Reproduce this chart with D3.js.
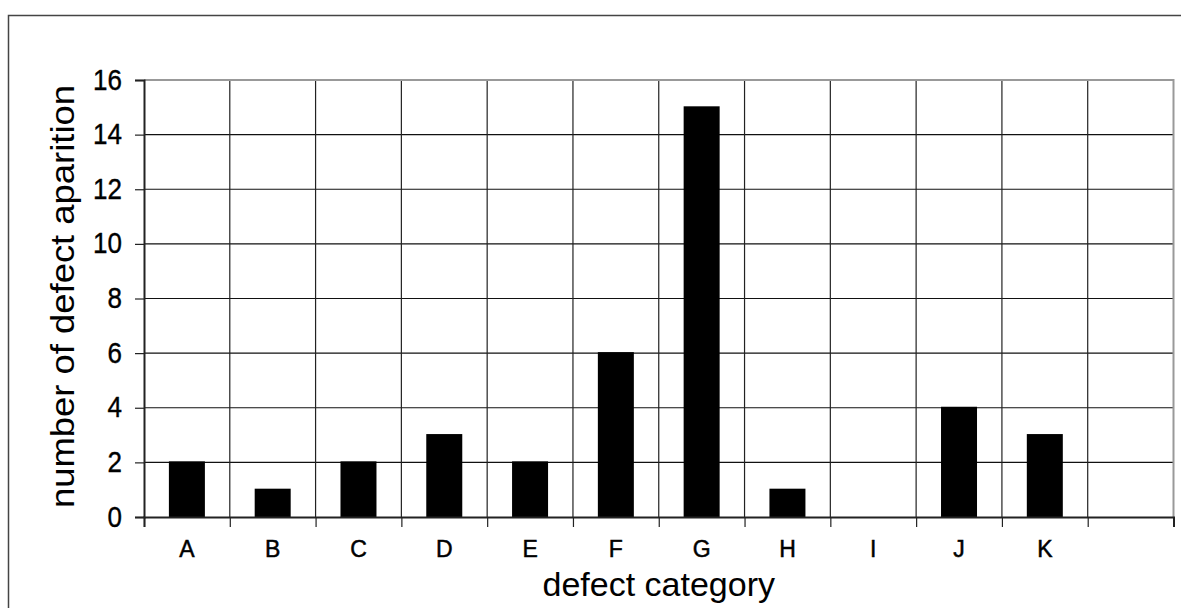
<!DOCTYPE html>
<html>
<head>
<meta charset="utf-8">
<script src="https://cdn.jsdelivr.net/npm/d3@7"></script>
<style>
  html, body { margin: 0; padding: 0; background: #fff; }
  svg { display: block; }
  text { font-family: "Liberation Sans", Arial, sans-serif; fill: #000; }
</style>
</head>
<body>
<svg id="chart" width="1181" height="608"></svg>
<script>
// Defect counts per category (the last slot is an empty category)
const categories = ["A", "B", "C", "D", "E", "F", "G", "H", "I", "J", "K", ""];
const counts = [2, 1, 2, 3, 2, 6, 15, 1, 0, 4, 3, null];
const yTicks = [0, 2, 4, 6, 8, 10, 12, 14, 16];
const xTitle = "defect category";
const yTitle = "number of defect aparition";

const W = 1181, H = 608;
const plot = { left: 144, right: 1173.5, top: 80, bottom: 517 };

const svg = d3.select("#chart");

// Outer frame of the chart object (runs past the right and bottom edges)
svg.append("rect")
  .attr("x", 8.5).attr("y", 15.5)
  .attr("width", W + 20).attr("height", H + 20)
  .attr("fill", "none").attr("stroke", "#444").attr("stroke-width", 1.5);

const x = d3.scaleBand().domain(d3.range(categories.length))
  .range([plot.left, plot.right]).paddingInner(0).paddingOuter(0);
const y = d3.scaleLinear().domain([0, 16]).range([plot.bottom, plot.top]);

// Horizontal gridlines
svg.append("g").selectAll("line").data(yTicks.filter(v => v > 0 && v < 16)).join("line")
  .attr("x1", plot.left).attr("x2", plot.right)
  .attr("y1", d => y(d)).attr("y2", d => y(d))
  .attr("stroke", "#111").attr("stroke-width", 1.2);

// Vertical gridlines at category boundaries
svg.append("g").selectAll("line").data(d3.range(1, categories.length)).join("line")
  .attr("x1", d => x(d)).attr("x2", d => x(d))
  .attr("y1", plot.top).attr("y2", plot.bottom)
  .attr("stroke", "#222").attr("stroke-width", 1.2);

// Plot area border (top and right, grey)
svg.append("path")
  .attr("d", `M${plot.left},${plot.top}H${plot.right}V${plot.bottom}`)
  .attr("fill", "none").attr("stroke", "#999").attr("stroke-width", 2);

// Bars
const barW = 36;
svg.append("g").selectAll("rect")
  .data(counts.map((v, i) => ({ v, i })).filter(d => d.v != null && d.v > 0))
  .join("rect")
  .attr("x", d => x(d.i) + x.bandwidth() / 2 - barW / 2)
  .attr("y", d => y(d.v) - 1)
  .attr("width", barW)
  .attr("height", d => y(0) - y(d.v) + 1)
  .attr("fill", "#000");

// Y axis
const yAxis = d3.axisLeft(y).tickValues(yTicks).tickSize(9).tickPadding(13)
  .tickFormat(d3.format("d"));
const gy = svg.append("g").attr("transform", `translate(${plot.left},0)`).call(yAxis);
gy.select(".domain").attr("stroke", "#222").attr("stroke-width", 2);
gy.selectAll(".tick line").attr("stroke", "#222").attr("stroke-width", 1.2);
// Tick labels are slightly taller than wide: stretch them vertically
gy.selectAll(".tick text")
  .attr("x", 0).attr("dy", 0)
  .attr("font-size", 26)
  .attr("transform", "translate(-22,9) scale(1,1.14)")
  .attr("stroke", "#000").attr("stroke-width", 0.35)
  .style("font-family", '"Liberation Sans", Arial, sans-serif').attr("fill", "#000");

// X axis: ticks at category boundaries, labels centred in each band
const xb = d3.scaleLinear().domain([0, categories.length]).range([plot.left, plot.right]);
const gx = svg.append("g").attr("transform", `translate(0,${plot.bottom})`)
  .call(d3.axisBottom(xb).tickValues(d3.range(0, categories.length + 1)).tickSize(10).tickFormat(""));
gx.select(".domain").attr("stroke", "#222").attr("stroke-width", 2);
gx.selectAll(".tick line").attr("stroke", "#222").attr("stroke-width", 1.2);

svg.append("g").selectAll("text").data(categories).join("text")
  .attr("x", (d, i) => x(i) + x.bandwidth() / 2)
  .attr("y", 557)
  .attr("text-anchor", "middle")
  .attr("font-size", 23)
  .attr("stroke", "#000").attr("stroke-width", 0.5)
  .text(d => d);

// Axis titles
svg.append("text")
  .attr("x", (plot.left + plot.right) / 2).attr("y", 596)
  .attr("text-anchor", "middle").attr("font-size", 34)
  .text(xTitle);

svg.append("text")
  .attr("transform", `translate(74,${(plot.top + plot.bottom) / 2 - 2}) rotate(-90)`)
  .attr("text-anchor", "middle").attr("font-size", 33)
  .attr("textLength", 423).attr("lengthAdjust", "spacingAndGlyphs")
  .text(yTitle);
</script>
</body>
</html>
